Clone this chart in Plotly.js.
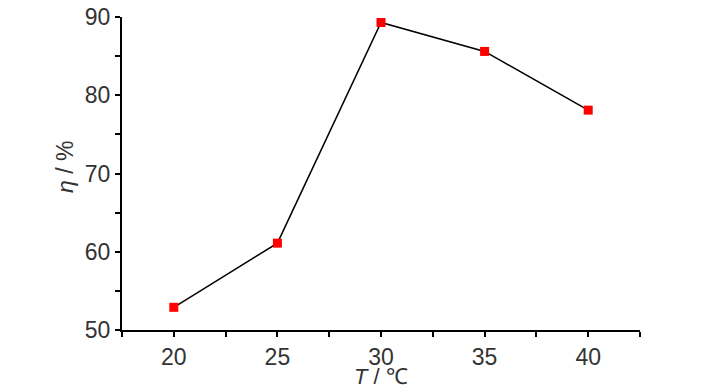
<!DOCTYPE html>
<html><head><meta charset="utf-8">
<script src="https://cdn.plot.ly/plotly-3.0.1.min.js"></script>
<style>body{margin:0;background:#fff}#c{width:728px;height:390px}</style>
</head><body><div id="c"></div>
<script>
const temperature = [20, 25, 30, 35, 40];
const efficiency = [52.9, 61.1, 89.3, 85.6, 78.1];
const xTicks = [20, 25, 30, 35, 40];
const yTicks = [50, 60, 70, 80, 90];
const xTitle = '<i>T</i> / ℃';
const yTitle = '<i>η</i> / %';

const fontFam = '"Liberation Sans Narrow", "Liberation Sans", Arial, sans-serif';
const txt = '#333333';

const trace = {
  x: temperature, y: efficiency, type: 'scatter', mode: 'lines+markers',
  line: {color: '#000000', width: 1.5},
  marker: {symbol: 'square', size: 9, color: '#ff0000'},
  cliponaxis: false
};

const axisCommon = {
  showgrid: false, zeroline: false, showline: true, linecolor: '#000', linewidth: 2,
  ticks: 'outside', ticklen: 5, tickwidth: 2, tickcolor: '#000',
  tickfont: {family: fontFam, size: 23, color: txt}
};

const layout = {
  width: 728, height: 390,
  margin: {l: 122, r: 88, t: 17, b: 60},
  paper_bgcolor: '#fff', plot_bgcolor: '#fff',
  showlegend: false,
  xaxis: Object.assign({}, axisCommon, {
    range: [17.5, 42.5], tickmode: 'array', tickvals: xTicks, ticktext: xTicks.map(String),
    minor: {dtick: 2.5, tick0: 17.5, ticks: 'outside', ticklen: 5, tickwidth: 2, tickcolor: '#000'}
  }),
  yaxis: Object.assign({}, axisCommon, {
    range: [50, 90], tickmode: 'array', tickvals: yTicks, ticktext: yTicks.map(String),
    minor: {dtick: 5, tick0: 50, ticks: 'outside', ticklen: 5, tickwidth: 2, tickcolor: '#000'}
  }),
  annotations: [
    {text: xTitle, xref: 'paper', yref: 'paper', x: 0.5, y: -0.1917, xanchor: 'center', yanchor: 'bottom',
     showarrow: false, borderpad: 0, font: {family: fontFam, size: 22, color: txt}},
    {text: yTitle, xref: 'paper', yref: 'paper', x: -0.110, y: 0.521, xanchor: 'center', yanchor: 'middle',
     textangle: -90, showarrow: false, font: {family: fontFam, size: 23, color: txt}}
  ]
};

Plotly.newPlot('c', [trace], layout, {displayModeBar: false, staticPlot: true});
</script>
</body></html>
